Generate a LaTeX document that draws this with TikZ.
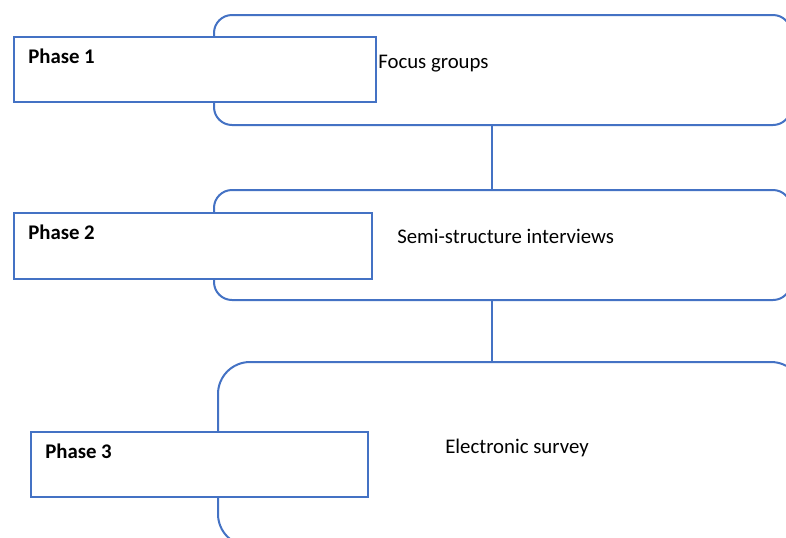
\documentclass[tikz,border=0pt]{standalone}
\usepackage{fontspec}
\setmainfont{Carlito}
\definecolor{officeblue}{HTML}{4472C4}
\tikzset{
  bigbox/.style={draw=officeblue, line width=1.5pt, rounded corners=13.5pt, anchor=north west, inner sep=0pt},
  phasebox/.style={draw=officeblue, line width=1.5pt, fill=white, anchor=north west, inner sep=0pt},
  phaselabel/.style={anchor=base west, inner sep=0pt, font=\fontsize{15.6}{18}\selectfont\bfseries},
  desclabel/.style={anchor=base west, inner sep=0pt, font=\fontsize{15.6}{18}\selectfont},
  link/.style={draw=officeblue, line width=1.5pt}
}
\begin{document}
\begin{tikzpicture}[x=0.75pt, y=-0.75pt]
\useasboundingbox (0,0) rectangle (786,537);
\clip (0,0) rectangle (786,537);
\fill[white] (0,0) rectangle (786,537);
% big rounded boxes
\node[bigbox, minimum width=432.75pt, minimum height=82.5pt] (b1) at (213,14) {};
\node[bigbox, minimum width=432.75pt, minimum height=82.5pt] (b2) at (213,189) {};
\node[bigbox, rounded corners=24pt, minimum width=438.75pt, minimum height=138pt] (b3) at (217,361) {};
% phase boxes
\node[phasebox, minimum width=271.5pt, minimum height=48.75pt] (p1) at (13,36) {};
\node[phasebox, minimum width=268.5pt, minimum height=49.5pt] (p2) at (13,212) {};
\node[phasebox, minimum width=252.75pt, minimum height=48.75pt] (p3) at (30,431) {};
% labels
\node[phaselabel] (l1) at (28,63) {Phase 1};
\node[phaselabel] (l2) at (28,239) {Phase 2};
\node[phaselabel] (l3) at (45,458) {Phase 3};
\node[desclabel] (d1) at (378,68) {Focus groups};
\node[desclabel] (d2) at (397,243) {Semi-structure interviews};
\node[desclabel] (d3) at (445,453) {Electronic survey};
% connectors
\coordinate (cx) at (492,0);
\draw[link] (b1.south -| cx) -- (b2.north -| cx);
\draw[link] (b2.south -| cx) -- (b3.north -| cx);
\end{tikzpicture}
\end{document}
